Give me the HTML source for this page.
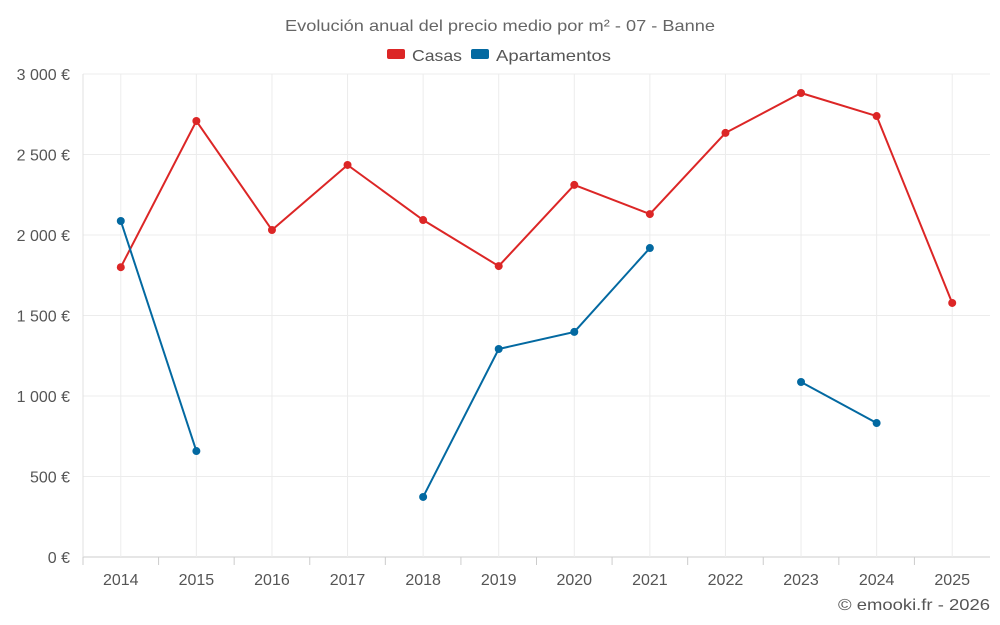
<!DOCTYPE html>
<html><head><meta charset="utf-8"><style>
body{margin:0;background:#fff;font-family:"Liberation Sans",sans-serif;}
svg{display:block}
</style></head><body>
<svg id="chart" width="1000" height="625">
<text x="285" y="31" textLength="430" lengthAdjust="spacingAndGlyphs" font-size="16" fill="#666">Evolución anual del precio medio por m² - 07 - Banne</text>
<g><rect x="387" y="49" width="18" height="10" rx="2" fill="#dc2626"/><text x="412" y="61" textLength="50" lengthAdjust="spacingAndGlyphs" font-size="16" fill="#555">Casas</text></g>
<g><rect x="471" y="49" width="18" height="10" rx="2" fill="#0369a1"/><text x="496" y="61" textLength="115" lengthAdjust="spacingAndGlyphs" font-size="16" fill="#555">Apartamentos</text></g>
<g id="grid"></g><g id="axes"></g><g id="series"></g>
<text x="838" y="610" textLength="152" lengthAdjust="spacingAndGlyphs" font-size="16" fill="#555">© emooki.fr - 2026</text>
</svg>
<script>
const categories=["2014","2015","2016","2017","2018","2019","2020","2021","2022","2023","2024","2025"];
const casas=[1800,2708,2031,2435,2093,1807,2311,2130,2634,2882,2739,1578];
const apartamentos=[2087,658,null,null,373,1292,1398,1919,null,1087,832,null];
const yTicks=[0,500,1000,1500,2000,2500,3000];
const yTickLabels=["0 €","500 €","1 000 €","1 500 €","2 000 €","2 500 €","3 000 €"];
const NS="http://www.w3.org/2000/svg";
const L=83,R=990,T=74,B=557,band=(R-L)/categories.length;
const x=i=>L+band*(i+0.5), y=v=>B-(v/3000)*(B-T);
function mk(tag,a,p){const e=document.createElementNS(NS,tag);for(const k in a)e.setAttribute(k,a[k]);p.appendChild(e);return e;}
const g=document.getElementById('grid'),ax=document.getElementById('axes'),s=document.getElementById('series');
yTicks.forEach((v,i)=>{
 const l=mk('line',{x1:L,x2:R,y1:y(v),y2:y(v),stroke:i==0?'#ccc':'#ececec'},g);
 
 
 const t=mk('text',{x:70,y:y(v)+6,'text-anchor':'end','font-size':16,fill:'#555'},ax);
 t.textContent=yTickLabels[i];
 
 
});
categories.forEach((c,i)=>{
 const l=mk('line',{x1:x(i),x2:x(i),y1:T,y2:B,stroke:'#ececec'},g);
 
 
 const tk=mk('line',{x1:L+band*i,x2:L+band*i,y1:B,y2:B+8,stroke:'#ccc'},ax);
 
 
 const t=mk('text',{x:x(i),y:585,'text-anchor':'middle','font-size':16,fill:'#555'},ax);
 t.textContent=c;
 
 
});
mk('line',{x1:L,x2:L,y1:T,y2:B,stroke:'#e0e0e0'},ax);
function draw(data,color,name){
 let seg=[];const segs=[];
 data.forEach((v,i)=>{if(v==null){if(seg.length)segs.push(seg);seg=[];}else seg.push([x(i),y(v)]);});
 if(seg.length)segs.push(seg);
 segs.forEach(sg=>{if(sg.length>1){
  const p=mk('polyline',{points:sg.map(q=>q.join(',')).join(' '),fill:'none',stroke:color,'stroke-width':2},s);
  
  }});
 data.forEach((v,i)=>{if(v==null)return;
  const c=mk('circle',{cx:x(i),cy:y(v),r:4,fill:color},s);
  
  });
}
draw(casas,'#dc2626','casas');
draw(apartamentos,'#0369a1','apartamentos');
</script>
</body></html>
